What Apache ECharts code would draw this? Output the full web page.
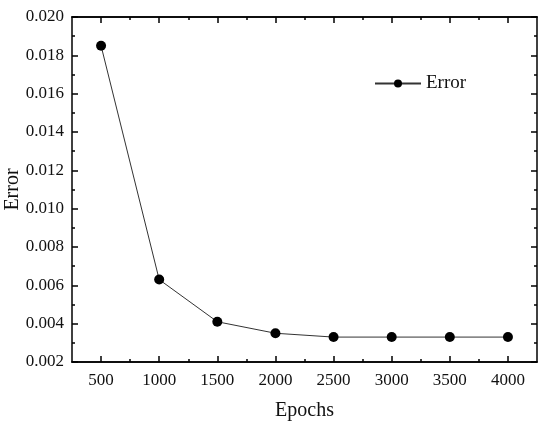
<!DOCTYPE html>
<html>
<head>
<meta charset="utf-8">
<script src="https://cdn.jsdelivr.net/npm/echarts@6/dist/echarts.min.js"></script>
<style>
	html, body { margin: 0; padding: 0; background: #fff; }
	#main { width: 550px; height: 429px; }
</style>
</head>
<body>
<div id="main"></div>
<script>
	// 数据
	const epochs = [500, 1000, 1500, 2000, 2500, 3000, 3500, 4000];
	const errorValues = [0.0185, 0.0063, 0.0041, 0.0035, 0.0033, 0.0033, 0.0033, 0.0033];
	const xMinorTicks = [750, 1250, 1750, 2250, 2750, 3250, 3750];

	const font = 'Liberation Serif, Times New Roman, serif';

	const chart = echarts.init(document.getElementById('main'));

	const baseX = function (pos, ticks, len, labels) {
		return {
			type: 'value',
			position: pos,
			min: 250,
			max: 4250,
			splitLine: { show: false },
			axisLine: { show: true, onZero: false, lineStyle: { color: '#000', width: 1.5 } },
			axisTick: { show: true, inside: true, length: len, customValues: ticks, lineStyle: { color: '#000', width: 1.5 } },
			axisLabel: labels ? {
				show: true,
				customValues: ticks,
				color: '#111',
				fontFamily: font,
				fontSize: 17,
				margin: 10,
				formatter: function (v) { return String(v); }
			} : { show: false }
		};
	};

	const baseY = function (pos, labels) {
		return {
			type: 'value',
			position: pos,
			min: 0.002,
			max: 0.020,
			interval: 0.002,
			splitLine: { show: false },
			axisLine: { show: true, onZero: false, lineStyle: { color: '#000', width: 1.5 } },
			axisTick: { show: true, inside: true, length: 6, lineStyle: { color: '#000', width: 1.5 } },
			minorTick: { show: true, splitNumber: 2, length: 3, lineStyle: { color: '#000', width: 1.5 } },
			axisLabel: labels ? {
				show: true,
				color: '#111',
				fontFamily: font,
				fontSize: 17,
				margin: 8,
				formatter: function (v) { return v.toFixed(3); }
			} : { show: false }
		};
	};

	let xMain = baseX('bottom', epochs, 6, true);
	xMain.name = 'Epochs';
	xMain.nameLocation = 'middle';
	xMain.nameGap = 39;
	xMain.nameMoveOverlap = false;
	xMain.nameTextStyle = { fontFamily: font, fontSize: 20, color: '#111' };

	let yMain = baseY('left', true);
	yMain.name = 'Error';
	yMain.nameLocation = 'middle';
	yMain.nameGap = 49;
	yMain.nameMoveOverlap = false;
	yMain.nameTextStyle = { fontFamily: font, fontSize: 20, color: '#111' };

	const option = {
		backgroundColor: '#fff',
		animation: false,
		grid: { left: 72, right: 13, top: 17, bottom: 67, containLabel: false, outerBoundsMode: 'none' },
		legend: {
			left: 369,
			top: 69,
			itemWidth: 46,
			itemHeight: 10,
			itemGap: 6,
			textStyle: { fontFamily: font, fontSize: 19, color: '#111' },
			data: ['Error']
		},
		xAxis: [
			xMain,
			baseX('bottom', xMinorTicks, 3, false),
			baseX('top', epochs, 6, false),
			baseX('top', xMinorTicks, 3, false)
		],
		yAxis: [
			yMain,
			baseY('right', false)
		],
		series: [{
			name: 'Error',
			type: 'line',
			xAxisIndex: 0,
			yAxisIndex: 0,
			symbol: 'circle',
			symbolSize: 10,
			itemStyle: { color: '#000' },
			lineStyle: { color: '#333', width: 1 },
			data: epochs.map(function (e, i) { return [e, errorValues[i]]; })
		}]
	};

	chart.setOption(option);
</script>
</body>
</html>
